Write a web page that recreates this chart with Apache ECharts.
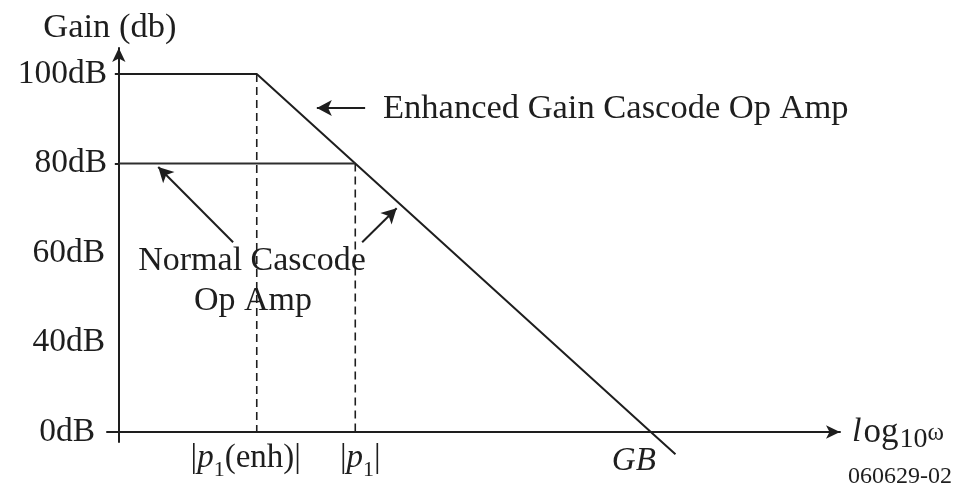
<!DOCTYPE html>
<html><head><meta charset="utf-8">
<script src="https://cdn.jsdelivr.net/npm/echarts@6/dist/echarts.min.js"></script>
<style>html,body{margin:0;padding:0;background:#fff}#c{width:954px;height:488px}</style>
</head><body><div id="c"></div><script>
// Gain levels (index = level on the schematic gain axis)
const yTickLabels = ['0dB', '40dB', '60dB', '80dB', '100dB'];
const yTickLevels = [0, 1, 2, 3, 4];
// x axis: log10(omega), schematic decades
const xTickNames = ['p1enh', 'p1', 'GB'];
const xTickValues = [1.4, 2.4, 5.4];
// Enhanced gain cascode op amp response
const enhancedX = [0, 1.4, 5.4, 5.65];
const enhancedY = [4, 4, 0, -0.25];
// Normal cascode op amp response
const normalX = [0, 2.4];
const normalY = [3, 3];

const F = 'Liberation Serif';
const INK = '#1e1e1e';
const pairs = (xs, ys) => xs.map((x, i) => [x, ys[i]]);

const xLabelText = {
  p1enh: '{m||}{p|p}{s|1}{m|(enh)|}{g| }',
  p1: '{g2| }{m||}{p|p}{s|1}{m||}',
  GB: '{q|GB}{g3| }'
};
const T = (o) => Object.assign({ fontFamily: F, color: INK, verticalAlign: 'top' }, o);

const chart = echarts.init(document.getElementById('c'));
chart.setOption({
  animation: false,
  backgroundColor: '#fff',
  grid: { left: 107, right: 114, top: 48, bottom: 46 },
  xAxis: {
    type: 'value', min: -0.12, max: 7.32,
    splitLine: { show: false },
    axisLine: { show: true, onZero: true, symbol: ['none', 'arrow'], symbolSize: [10, 14],
      lineStyle: { color: INK, width: 2 } },
    axisTick: { show: false },
    axisLabel: {
      customValues: xTickValues, margin: 0, color: INK, fontFamily: F, fontSize: 33,
      formatter: v => {
        const i = xTickValues.findIndex(t => Math.abs(t - v) < 1e-6);
        return i < 0 ? '' : xLabelText[xTickNames[i]];
      },
      rich: {
        m: T({ fontSize: 33, lineHeight: 33 }),
        p: T({ fontStyle: 'italic', fontSize: 33, lineHeight: 33 }),
        q: T({ fontStyle: 'italic', fontSize: 33, lineHeight: 33, padding: [3, 0, 0, 0] }),
        s: T({ fontSize: 22, lineHeight: 22, padding: [17, 0, 0, 0] }),
        g: T({ width: 22 }), g2: T({ width: 10 }), g3: T({ width: 34 })
      }
    },
    name: '{i|l}{m|og}{s|10}{w|ω}', nameLocation: 'end', nameGap: 12,
    nameTextStyle: {
      fontFamily: F, fontSize: 33, color: INK,
      rich: {
        i: T({ fontStyle: 'italic', fontSize: 34, lineHeight: 34, padding: [0, 2, 0, 0] }),
        m: T({ fontSize: 35, lineHeight: 34 }),
        s: T({ fontSize: 28, lineHeight: 28, padding: [11, 0, 0, 1] }),
        w: T({ fontSize: 25, lineHeight: 25, padding: [6, 0, 0, 0] })
      }
    }
  },
  yAxis: {
    type: 'value', min: -0.112, max: 4.29,
    splitLine: { show: false },
    axisLine: { show: true, onZero: true, symbol: ['none', 'arrow'], symbolSize: [10, 14],
      lineStyle: { color: INK, width: 2 } },
    axisTick: { show: true, customValues: [3, 4], length: 4, lineStyle: { color: INK, width: 2 } },
    axisLabel: {
      customValues: yTickLevels, margin: 0, color: INK, fontFamily: F, fontSize: 33.5,
      formatter: v => {
        const i = Math.round(v);
        return i === 0 ? '{z|' + yTickLabels[i] + '}' : (i <= 2 ? '{h|' + yTickLabels[i] + '}' : yTickLabels[i]);
      },
      rich: {
        z: { fontFamily: F, fontSize: 33.5, color: INK, padding: [0, 12, 0, 0] },
        h: { fontFamily: F, fontSize: 33.5, color: INK, padding: [0, 2, 0, 0] }
      }
    },
    name: 'Gain (db)', nameLocation: 'end', nameGap: 3,
    nameTextStyle: { fontFamily: F, fontSize: 34.5, color: INK, padding: [0, 18, 0, 0] }
  },
  series: [
    { type: 'line', data: pairs(enhancedX, enhancedY), symbol: 'none', clip: false,
      lineStyle: { color: INK, width: 2 }, z: 5 },
    { type: 'line', data: pairs(normalX, normalY), symbol: 'none', clip: false,
      lineStyle: { color: '#2e2e2e', width: 2 }, z: 5 },
    { type: 'line', data: [[xTickValues[0], enhancedY[1]], [xTickValues[0], 0]], symbol: 'none',
      lineStyle: { color: INK, width: 1.6, type: [8, 5] } },
    { type: 'line', data: [[xTickValues[1], normalY[1]], [xTickValues[1], 0]], symbol: 'none',
      lineStyle: { color: INK, width: 1.6, type: [8, 5] },
      markLine: {
        silent: true, symbol: ['none', 'arrow'], symbolSize: [12, 15],
        lineStyle: { color: INK, width: 2, type: 'solid' }, label: { show: false },
        data: [
          [{ coord: [2.50, 3.62] }, { coord: [2.01, 3.62] }],
          [{ coord: [1.16, 2.12] }, { coord: [0.40, 2.96] }],
          [{ coord: [2.47, 2.12] }, { coord: [2.82, 2.50] }]
        ]
      }
    }
  ],
  graphic: [
    { type: 'text', x: 383, y: 108.5, style: { text: 'Enhanced Gain Cascode Op Amp', font: '34.5px "Liberation Serif"', fill: INK, align: 'left', verticalAlign: 'middle' } },
    { type: 'text', x: 252, y: 261, style: { text: 'Normal Cascode', font: '34px "Liberation Serif"', fill: INK, align: 'center', verticalAlign: 'middle' } },
    { type: 'text', x: 253, y: 301, style: { text: 'Op Amp', font: '34px "Liberation Serif"', fill: INK, align: 'center', verticalAlign: 'middle' } },
    { type: 'text', x: 952, y: 477, style: { text: '060629-02', font: '24px "Liberation Serif"', fill: INK, align: 'right', verticalAlign: 'middle' } }
  ]
});
</script></body></html>
